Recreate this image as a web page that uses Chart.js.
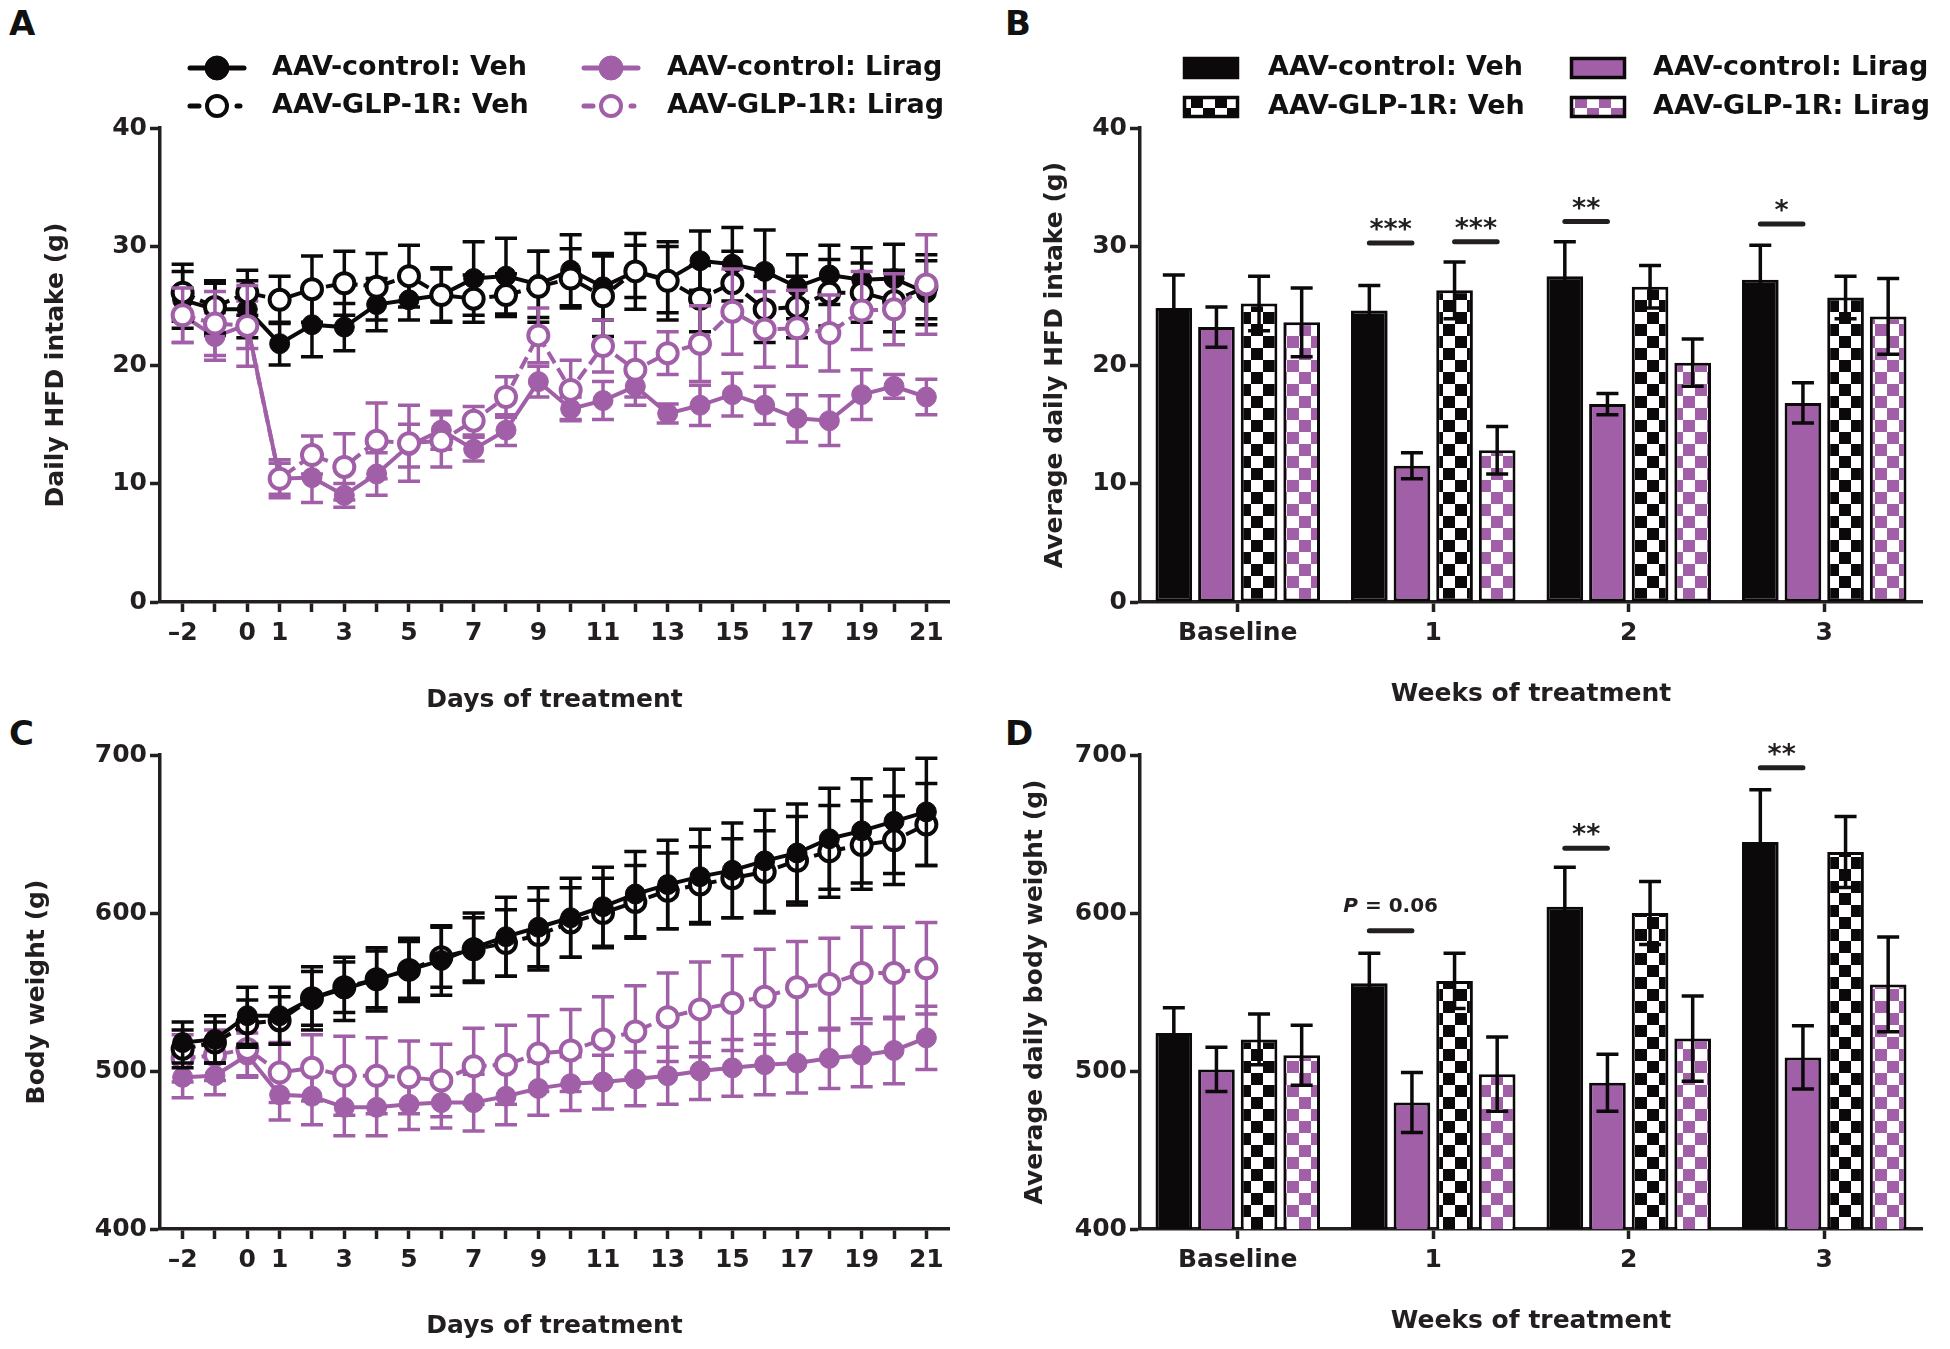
<!DOCTYPE html>
<html>
<head>
<meta charset="utf-8">
<script src="https://cdn.jsdelivr.net/npm/chart.js@4.4.1/dist/chart.umd.min.js"></script>
<style>
  body { margin: 0; background: #fff; width: 1950px; height: 1349px; position: relative; overflow: hidden; }
  canvas { position: absolute; }
  .panel-letter { position: absolute; font: bold 34px "DejaVu Sans", sans-serif; color: #111; line-height: 34px; }
</style>
</head>
<body>
<div class="panel-letter" style="left:9px;top:6px">A</div>
<div class="panel-letter" style="left:1005px;top:6px">B</div>
<div class="panel-letter" style="left:9px;top:716px">C</div>
<div class="panel-letter" style="left:1005px;top:716px">D</div>

<canvas id="chartA" width="975" height="725" style="left:0;top:0"></canvas>
<canvas id="chartB" width="975" height="725" style="left:975px;top:0"></canvas>
<canvas id="chartC" width="975" height="624" style="left:0;top:725px"></canvas>
<canvas id="chartD" width="975" height="624" style="left:975px;top:725px"></canvas>

<script>
// Groups and axis categories
const groupNames = ['AAV-control: Veh', 'AAV-GLP-1R: Veh', 'AAV-control: Lirag', 'AAV-GLP-1R: Lirag'];
const days = [-2, -1, 0, 1, 2, 3, 4, 5, 6, 7, 8, 9, 10, 11, 12, 13, 14, 15, 16, 17, 18, 19, 20, 21];
const dayLabelValues = [-2, 0, 1, 3, 5, 7, 9, 11, 13, 15, 17, 19, 21];
const weekLabels = ['Baseline', '1', '2', '3'];

// A: daily HFD intake (g), mean and SEM per day
const intakeCtrlVeh = [25.5, 24.7, 24.7, 21.8, 23.4, 23.2, 25.1, 25.5, 25.9, 27.3, 27.5, 26.8, 28.0, 26.6, 27.9, 27.2, 28.8, 28.5, 27.9, 26.6, 27.6, 27.2, 27.3, 26.1];
const intakeCtrlVehSem = [2.4, 2.2, 2.4, 1.8, 2.7, 2.0, 2.2, 1.7, 2.2, 3.1, 3.2, 2.8, 3.0, 2.8, 3.2, 2.8, 2.5, 3.1, 3.5, 2.7, 2.5, 2.7, 2.9, 2.7];
const intakeGlpVeh = [26.1, 24.9, 26.1, 25.5, 26.4, 26.9, 26.6, 27.5, 25.9, 25.6, 25.9, 26.6, 27.3, 25.8, 27.9, 27.1, 25.6, 26.9, 24.7, 24.9, 26.1, 26.1, 25.4, 26.6];
const intakeGlpVehSem = [2.4, 2.2, 1.9, 2.0, 2.8, 2.7, 2.8, 2.6, 2.3, 2.0, 1.8, 3.0, 2.5, 3.4, 2.2, 3.3, 2.8, 2.7, 2.8, 2.6, 2.8, 2.5, 2.6, 2.7];
const intakeCtrlLirag = [24.2, 22.4, 23.4, 10.4, 10.5, 9.0, 10.8, 13.2, 14.5, 12.9, 14.5, 18.6, 16.3, 17.0, 18.2, 15.9, 16.6, 17.5, 16.6, 15.5, 15.3, 17.5, 18.2, 17.3];
const intakeCtrlLiragSem = [2.3, 2.0, 2.0, 1.6, 2.1, 1.0, 1.8, 1.8, 1.6, 1.0, 1.3, 1.3, 1.0, 1.6, 1.6, 0.8, 1.7, 1.8, 1.6, 2.0, 2.1, 2.1, 1.0, 1.5];
const intakeGlpLirag = [24.2, 23.5, 23.3, 10.4, 12.4, 11.4, 13.6, 13.4, 13.6, 15.3, 17.3, 22.5, 17.9, 21.6, 19.6, 21.0, 21.8, 24.5, 23.0, 23.1, 22.7, 24.6, 24.7, 26.8];
const intakeGlpLiragSem = [2.3, 2.7, 3.4, 1.3, 1.6, 2.8, 3.2, 3.2, 2.2, 1.2, 1.7, 2.3, 2.5, 2.2, 2.3, 1.8, 3.2, 3.6, 3.2, 3.2, 3.2, 3.3, 3.0, 4.2];

// C: body weight (g), mean and SEM per day
const weightCtrlVeh = [518, 520, 535, 535, 546, 552, 558, 564, 570, 578, 585, 591, 597, 604, 612, 618, 623, 627, 633, 638, 647, 652, 658, 664];
const weightCtrlVehSem = [13, 15, 18, 18, 20, 20, 20, 20, 22, 22, 25, 25, 25, 25, 27, 28, 30, 30, 32, 31, 32, 33, 33, 34];
const weightGlpVeh = [514, 518, 530, 532, 546, 553, 558, 564, 572, 577, 581, 586, 594, 600, 607, 614, 618, 622, 626, 633, 639, 643, 646, 656];
const weightGlpVehSem = [12, 13, 15, 15, 17, 16, 18, 18, 19, 20, 21, 22, 22, 22, 23, 24, 24, 25, 26, 28, 29, 28, 28, 26];
const weightCtrlLirag = [496, 497, 510, 485, 484, 477, 477, 479, 480, 480, 484, 489, 492, 493, 495, 497, 500, 502, 504, 505, 508, 510, 513, 521];
const weightCtrlLiragSem = [13, 12, 14, 16, 18, 18, 18, 16, 16, 18, 18, 17, 17, 17, 17, 18, 18, 18, 19, 19, 19, 20, 21, 20];
const weightGlpLirag = [508, 510, 514, 499, 502, 497, 497, 496, 494, 503, 504, 511, 513, 520, 525, 534, 539, 543, 547, 553, 555, 562, 562, 565];
const weightGlpLiragSem = [15, 16, 17, 19, 21, 25, 24, 23, 23, 24, 25, 24, 26, 27, 29, 28, 30, 30, 30, 29, 29, 29, 29, 29];

// B: average daily HFD intake (g) per week
const weekIntakeCtrlVeh = [24.8, 24.6, 27.5, 27.2];
const weekIntakeCtrlVehSem = [2.8, 2.1, 2.9, 2.9];
const weekIntakeCtrlLirag = [23.2, 11.5, 16.7, 16.8];
const weekIntakeCtrlLiragSem = [1.7, 1.1, 0.9, 1.7];
const weekIntakeGlpVeh = [25.2, 26.3, 26.6, 25.7];
const weekIntakeGlpVehSem = [2.3, 2.4, 1.8, 1.8];
const weekIntakeGlpLirag = [23.6, 12.8, 20.2, 24.1];
const weekIntakeGlpLiragSem = [2.9, 2.0, 2.0, 3.2];
const intakeSigIndex = [1, 1, 2, 3];
const intakeSigPair = [[0, 1], [2, 3], [0, 1], [0, 1]];
const intakeSigValue = [30.3, 30.4, 32.1, 31.9];
const intakeSigText = ['***', '***', '**', '*'];

// D: average daily body weight (g) per week
const weekWeightCtrlVeh = [524, 555.5, 604, 645];
const weekWeightCtrlVehSem = [16, 19, 25, 33];
const weekWeightCtrlLirag = [501, 480, 492.6, 508.6];
const weekWeightCtrlLiragSem = [14, 19, 18, 20];
const weekWeightGlpVeh = [520, 557, 600, 638.6];
const weekWeightGlpVehSem = [16, 17.5, 20, 22.4];
const weekWeightGlpLirag = [510, 498, 520.5, 554.8];
const weekWeightGlpLiragSem = [19, 23.5, 27, 30];
const weightSigIndex = [1, 2, 3];
const weightSigPair = [[0, 1], [0, 1], [0, 1]];
const weightSigValue = [588.8, 641, 692];
const weightSigText = ['P = 0.06', '**', '**'];

const axisColor = '#231f20';
const purple = '#a05fa7';
const black = '#0c090a';
const fontFamily = '"DejaVu Sans", sans-serif';

Chart.defaults.font.family = fontFamily;
Chart.defaults.font.weight = 'bold';
Chart.defaults.font.size = 25;
Chart.defaults.color = axisColor;

// checkerboard fill for the GLP-1R bars
function checker(color) {
    const c = document.createElement('canvas');
    c.width = 24; c.height = 24;
    const g = c.getContext('2d');
    g.fillStyle = '#fff';
    g.fillRect(0, 0, 24, 24);
    g.fillStyle = color;
    g.fillRect(0, 0, 12, 12);
    g.fillRect(12, 12, 12, 12);
    return g.createPattern(c, 'repeat');
}

function drawErrorBars(chart, i) {
    const ds = chart.data.datasets[i];
    if (!ds.sem) return;
    const meta = chart.getDatasetMeta(i);
    const yScale = chart.scales.y;
    const ctx = chart.ctx;
    ctx.save();
    ctx.strokeStyle = ds.errColor;
    ctx.lineWidth = 3.5;
    meta.data.forEach((el, j) => {
        const d = ds.data[j];
        const v = typeof d === 'object' ? d.y : d;
        const top = yScale.getPixelForValue(v + ds.sem[j]);
        const bot = yScale.getPixelForValue(v - ds.sem[j]);
        ctx.beginPath();
        ctx.moveTo(el.x, top); ctx.lineTo(el.x, bot);
        ctx.moveTo(el.x - 11, top); ctx.lineTo(el.x + 11, top);
        ctx.moveTo(el.x - 11, bot); ctx.lineTo(el.x + 11, bot);
        ctx.stroke();
    });
    ctx.restore();
}

const errorBarPlugin = {
    id: 'errorBars',
    beforeDatasetDraw(chart, args) {
        if (chart.config.type === 'line') drawErrorBars(chart, args.index);
    },
    afterDatasetsDraw(chart) {
        if (chart.config.type === 'bar') chart.data.datasets.forEach((ds, i) => drawErrorBars(chart, i));
    }
};

// legend drawn at fixed spots above the plot
const panelLegendPlugin = {
    id: 'panelLegend',
    afterDraw(chart, args, opts) {
        if (!opts.items) return;
        const ctx = chart.ctx;
        opts.items.forEach(it => {
            const ds = chart.data.datasets[it.index];
            ctx.save();
            if (opts.kind === 'line') {
                ctx.strokeStyle = ds.borderColor;
                ctx.lineWidth = 5;
                ctx.lineCap = 'round';
                ctx.beginPath();
                if (ds.borderDash.length) {
                    ctx.moveTo(it.x - 27, it.y); ctx.lineTo(it.x - 18, it.y);
                    ctx.moveTo(it.x + 20, it.y); ctx.lineTo(it.x + 23, it.y);
                } else {
                    ctx.moveTo(it.x - 27, it.y); ctx.lineTo(it.x + 27, it.y);
                }
                ctx.stroke();
                ctx.beginPath();
                ctx.arc(it.x, it.y, ds.pointBorderWidth > 2 ? 10 : 12, 0, Math.PI * 2);
                ctx.fillStyle = ds.pointBackgroundColor;
                ctx.fill();
                ctx.lineWidth = ds.pointBorderWidth;
                ctx.stroke();
            } else {
                ctx.fillStyle = ds.backgroundColor;
                ctx.fillRect(it.x, it.y - 11, 56, 22);
                ctx.strokeStyle = black;
                ctx.lineWidth = 3.5;
                ctx.strokeRect(it.x + 1.5, it.y - 9.5, 53, 19);
            }
            ctx.fillStyle = '#111';
            ctx.font = 'bold 27px ' + fontFamily;
            ctx.textBaseline = 'middle';
            ctx.fillText(ds.label, it.textX, it.y);
            ctx.restore();
        });
    }
};

// significance bars over pairs of bars
const sigPlugin = {
    id: 'sigMarks',
    afterDatasetsDraw(chart, args, opts) {
        if (!opts.index) return;
        const ctx = chart.ctx;
        const yScale = chart.scales.y;
        opts.index.forEach((idx, k) => {
            const a = chart.getDatasetMeta(opts.pair[k][0]).data[idx];
            const b = chart.getDatasetMeta(opts.pair[k][1]).data[idx];
            const py = yScale.getPixelForValue(opts.value[k]);
            const cx = (a.x + b.x) / 2;
            ctx.save();
            ctx.strokeStyle = axisColor;
            ctx.lineWidth = 5;
            ctx.lineCap = 'round';
            ctx.beginPath();
            ctx.moveTo(a.x, py); ctx.lineTo(b.x, py);
            ctx.stroke();
            ctx.fillStyle = axisColor;
            ctx.textBaseline = 'alphabetic';
            const txt = opts.text[k];
            if (txt.startsWith('P')) {
                const rest = txt.slice(1);
                ctx.font = 'italic bold 20px ' + fontFamily;
                const w1 = ctx.measureText('P').width;
                ctx.font = 'bold 20px ' + fontFamily;
                const w2 = ctx.measureText(rest).width;
                let x0 = cx - (w1 + w2) / 2;
                ctx.textAlign = 'left';
                ctx.font = 'italic bold 20px ' + fontFamily;
                ctx.fillText('P', x0, py - 19);
                ctx.font = 'bold 20px ' + fontFamily;
                ctx.fillText(rest, x0 + w1, py - 19);
            } else {
                ctx.textAlign = 'center';
                ctx.font = 'bold 27px ' + fontFamily;
                ctx.fillText(txt, cx, py - 5);
            }
            ctx.restore();
        });
    }
};

Chart.register(errorBarPlugin, panelLegendPlugin, sigPlugin);

function lineDataset(label, values, sem, color, filled, order) {
    return {
        label: label,
        order: order,
        data: days.map((d, i) => ({ x: d, y: values[i] })),
        sem: sem,
        errColor: color,
        borderColor: color,
        borderWidth: 4,
        borderDash: filled ? [] : [13, 6],
        backgroundColor: filled ? color : '#fff',
        pointBackgroundColor: filled ? color : '#fff',
        pointBorderColor: color,
        pointBorderWidth: filled ? 1 : 4,
        pointRadius: 10,
        fill: false,
        tension: 0
    };
}

function barDataset(label, values, sem, fill) {
    return {
        label: label,
        data: values,
        sem: sem,
        errColor: black,
        backgroundColor: fill,
        borderColor: black,
        borderWidth: 3,
        borderSkipped: false,
        categoryPercentage: 0.872,
        barPercentage: 0.86
    };
}

function axisStyle() {
    return {
        grid: { drawOnChartArea: false, tickLength: 10, tickWidth: 3.5, tickColor: axisColor },
        border: { color: axisColor, width: 3.5 }
    };
}

function yAxis(min, max, step, title, width) {
    return Object.assign(axisStyle(), {
        min: min, max: max,
        ticks: { stepSize: step, padding: 3 },
        title: { display: true, text: title, font: { size: 25, weight: 'bold' }, color: axisColor, padding: 0 },
        afterFit: s => { s.width = width; }
    });
}

function lineChart(id, datasets, yOpts, padding, xHeight, legendItems) {
    const xAxis = Object.assign(axisStyle(), {
        type: 'linear',
        min: -2.7, max: 21.7,
        afterBuildTicks: s => { s.ticks = days.map(v => ({ value: v })); },
        ticks: {
            autoSkip: false, maxRotation: 0, padding: 6,
            callback: v => dayLabelValues.includes(v) ? String(v).replace('-', '\u2013') : ''
        },
        title: { display: true, text: 'Days of treatment', font: { size: 25, weight: 'bold' }, color: axisColor, padding: 0 },
        afterFit: s => { s.height = xHeight; }
    });
    return new Chart(document.getElementById(id), {
        type: 'line',
        data: { datasets: datasets },
        options: {
            responsive: false,
            animation: false,
            layout: { padding: padding },
            scales: { x: xAxis, y: yOpts },
            plugins: {
                legend: { display: false },
                tooltip: { enabled: false },
                panelLegend: { kind: 'line', items: legendItems }
            }
        }
    });
}

function barChart(id, datasets, yOpts, padding, xHeight, legendItems, sig) {
    const xAxis = Object.assign(axisStyle(), {
        type: 'category',
        offset: true,
        ticks: { padding: 6, maxRotation: 0 },
        title: { display: true, text: 'Weeks of treatment', font: { size: 25, weight: 'bold' }, color: axisColor, padding: 0 },
        afterFit: s => { s.height = xHeight; }
    });
    xAxis.grid.offset = false;
    return new Chart(document.getElementById(id), {
        type: 'bar',
        data: { labels: weekLabels, datasets: datasets },
        options: {
            responsive: false,
            animation: false,
            layout: { padding: padding },
            scales: { x: xAxis, y: yOpts },
            plugins: {
                legend: { display: false },
                tooltip: { enabled: false },
                panelLegend: { kind: 'bar', items: legendItems },
                sigMarks: sig
            }
        }
    });
}

// legend slots: dataset index, marker position, text start
const lineLegendItems = [
    { index: 0, x: 217, y: 68, textX: 272 },
    { index: 1, x: 217, y: 106, textX: 272 },
    { index: 2, x: 611, y: 68, textX: 667 },
    { index: 3, x: 611, y: 106, textX: 667 }
];
const barLegendItems = [
    { index: 0, x: 208, y: 68, textX: 293 },
    { index: 2, x: 208, y: 107, textX: 293 },
    { index: 1, x: 595, y: 68, textX: 678 },
    { index: 3, x: 595, y: 107, textX: 678 }
];

// Panel A
lineChart('chartA', [
    lineDataset(groupNames[0], intakeCtrlVeh, intakeCtrlVehSem, black, true, 4),
    lineDataset(groupNames[1], intakeGlpVeh, intakeGlpVehSem, black, false, 2),
    lineDataset(groupNames[2], intakeCtrlLirag, intakeCtrlLiragSem, purple, true, 3),
    lineDataset(groupNames[3], intakeGlpLirag, intakeGlpLiragSem, purple, false, 1)
], yAxis(0, 40, 10, 'Daily HFD intake (g)', 119),
   { left: 41, top: 128, right: 26, bottom: 10 }, 113, lineLegendItems);

// Panel C
lineChart('chartC', [
    lineDataset(groupNames[0], weightCtrlVeh, weightCtrlVehSem, black, true, 1),
    lineDataset(groupNames[1], weightGlpVeh, weightGlpVehSem, black, false, 2),
    lineDataset(groupNames[2], weightCtrlLirag, weightCtrlLiragSem, purple, true, 4),
    lineDataset(groupNames[3], weightGlpLirag, weightGlpLiragSem, purple, false, 3)
], yAxis(400, 700, 100, 'Body weight (g)', 138),
   { left: 22, top: 30, right: 26, bottom: 8 }, 112, null);

// Panel B
barChart('chartB', [
    barDataset(groupNames[0], weekIntakeCtrlVeh, weekIntakeCtrlVehSem, black),
    barDataset(groupNames[2], weekIntakeCtrlLirag, weekIntakeCtrlLiragSem, purple),
    barDataset(groupNames[1], weekIntakeGlpVeh, weekIntakeGlpVehSem, checker(black)),
    barDataset(groupNames[3], weekIntakeGlpLirag, weekIntakeGlpLiragSem, checker(purple))
], yAxis(0, 40, 10, 'Average daily HFD intake (g)', 100),
   { left: 65, top: 128, right: 28, bottom: 16 }, 107, barLegendItems,
   { index: intakeSigIndex, pair: intakeSigPair, value: intakeSigValue, text: intakeSigText });

// Panel D
barChart('chartD', [
    barDataset(groupNames[0], weekWeightCtrlVeh, weekWeightCtrlVehSem, black),
    barDataset(groupNames[2], weekWeightCtrlLirag, weekWeightCtrlLiragSem, purple),
    barDataset(groupNames[1], weekWeightGlpVeh, weekWeightGlpVehSem, checker(black)),
    barDataset(groupNames[3], weekWeightGlpLirag, weekWeightGlpLiragSem, checker(purple))
], yAxis(400, 700, 100, 'Average daily body weight (g)', 120),
   { left: 45, top: 30, right: 28, bottom: 13 }, 107, null,
   { index: weightSigIndex, pair: weightSigPair, value: weightSigValue, text: weightSigText });
</script>
</body>
</html>
